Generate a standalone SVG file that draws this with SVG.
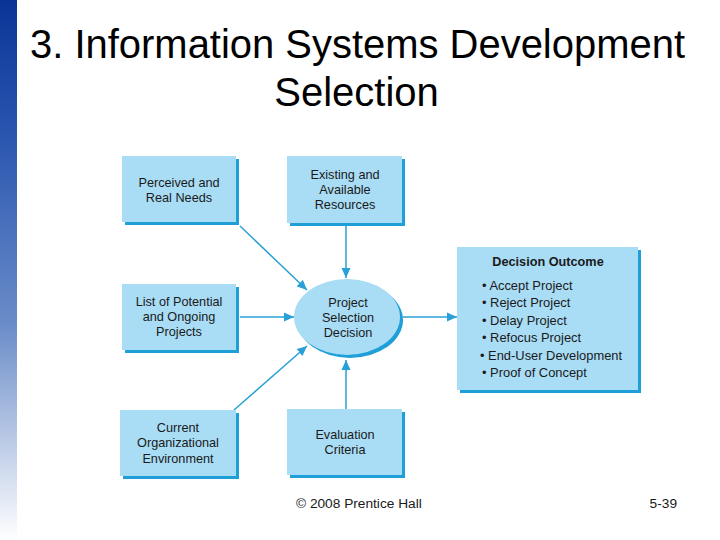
<svg xmlns="http://www.w3.org/2000/svg" width="720" height="540" viewBox="0 0 720 540">
<defs>
<linearGradient id="bar" x1="0" y1="0" x2="0" y2="1">
<stop offset="0" stop-color="#0a3597"/>
<stop offset="0.25" stop-color="#2a56b0"/>
<stop offset="0.6" stop-color="#6a8cc8"/>
<stop offset="1" stop-color="#ffffff"/>
</linearGradient>
<marker id="ah" viewBox="0 0 10 10" refX="10" refY="5" markerWidth="10" markerHeight="10" markerUnits="userSpaceOnUse" orient="auto">
<path d="M0,0.5 L10,5 L0,9.5 Z" fill="#29a0d6"/>
</marker>
<style>
.box{fill:#a9dcf5;}
.sh{fill:#1f9fd8;}
.t{font-family:"Liberation Sans",Arial,sans-serif;font-size:12.7px;fill:#1a1a1a;text-anchor:middle;}
.b{font-family:"Liberation Sans",Arial,sans-serif;font-size:12.9px;fill:#1a1a1a;}
.c{stroke:#29a0d6;stroke-width:1.5;fill:none;marker-end:url(#ah);}
.ttl{font-family:"Liberation Sans",Arial,sans-serif;font-size:40px;fill:#000;text-anchor:middle;}
.ft{font-family:"Liberation Sans",Arial,sans-serif;font-size:13.7px;fill:#1a1a1a;}
</style>
</defs>
<rect width="720" height="540" fill="#ffffff"/>
<rect x="0" y="0" width="17" height="540" fill="url(#bar)"/>
<text class="ttl" x="357.5" y="58" textLength="655" lengthAdjust="spacingAndGlyphs">3. Information Systems Development</text>
<text class="ttl" x="356.5" y="106">Selection</text>

<g id="connectors">
<line class="c" x1="240" y1="226" x2="307" y2="290"/>
<line class="c" x1="346" y1="226" x2="346" y2="278"/>
<line class="c" x1="240" y1="317" x2="294" y2="317"/>
<line class="c" x1="403" y1="317" x2="457" y2="317"/>
<line class="c" x1="234" y1="410" x2="307" y2="346"/>
<line class="c" x1="346" y1="409" x2="346" y2="360"/>
</g>

<g id="perceived">
<rect class="sh" x="125" y="159" width="114" height="66"/>
<rect class="box" x="122" y="156" width="114" height="66"/>
<text class="t" x="179" y="187">Perceived and</text>
<text class="t" x="179" y="202">Real Needs</text>
</g>
<g id="existing">
<rect class="sh" x="290" y="159" width="115" height="67"/>
<rect class="box" x="287" y="156" width="115" height="67"/>
<text class="t" x="345" y="179">Existing and</text>
<text class="t" x="345" y="194">Available</text>
<text class="t" x="345" y="209">Resources</text>
</g>
<g id="list">
<rect class="sh" x="125" y="287" width="114" height="66"/>
<rect class="box" x="122" y="284" width="114" height="66"/>
<text class="t" x="179" y="306">List of Potential</text>
<text class="t" x="179" y="321">and Ongoing</text>
<text class="t" x="179" y="336">Projects</text>
</g>
<g id="decision">
<ellipse class="sh" cx="350" cy="320" rx="53" ry="38"/>
<ellipse class="box" cx="347" cy="317" rx="53" ry="38"/>
<text class="t" x="348" y="307">Project</text>
<text class="t" x="348" y="322">Selection</text>
<text class="t" x="348" y="337">Decision</text>
</g>
<g id="outcome">
<rect class="sh" x="460" y="250" width="181" height="143"/>
<rect class="box" x="457" y="247" width="181" height="143"/>
<text class="t" x="548" y="266" font-weight="bold">Decision Outcome</text>
<text class="b" x="482" y="290">• Accept Project</text>
<text class="b" x="482" y="307">• Reject Project</text>
<text class="b" x="482" y="325">• Delay Project</text>
<text class="b" x="482" y="342">• Refocus Project</text>
<text class="b" x="480" y="360">• End-User Development</text>
<text class="b" x="482" y="377">• Proof of Concept</text>
</g>
<g id="current">
<rect class="sh" x="123" y="413" width="116" height="66"/>
<rect class="box" x="120" y="410" width="116" height="66"/>
<text class="t" x="178" y="432">Current</text>
<text class="t" x="178" y="447">Organizational</text>
<text class="t" x="178" y="463">Environment</text>
</g>
<g id="evaluation">
<rect class="sh" x="290" y="412" width="115" height="66"/>
<rect class="box" x="287" y="409" width="115" height="66"/>
<text class="t" x="345" y="439">Evaluation</text>
<text class="t" x="345" y="454">Criteria</text>
</g>

<text class="ft" x="296" y="508">© 2008 Prentice Hall</text>
<text class="ft" x="677" y="508" text-anchor="end">5-39</text>
</svg>
